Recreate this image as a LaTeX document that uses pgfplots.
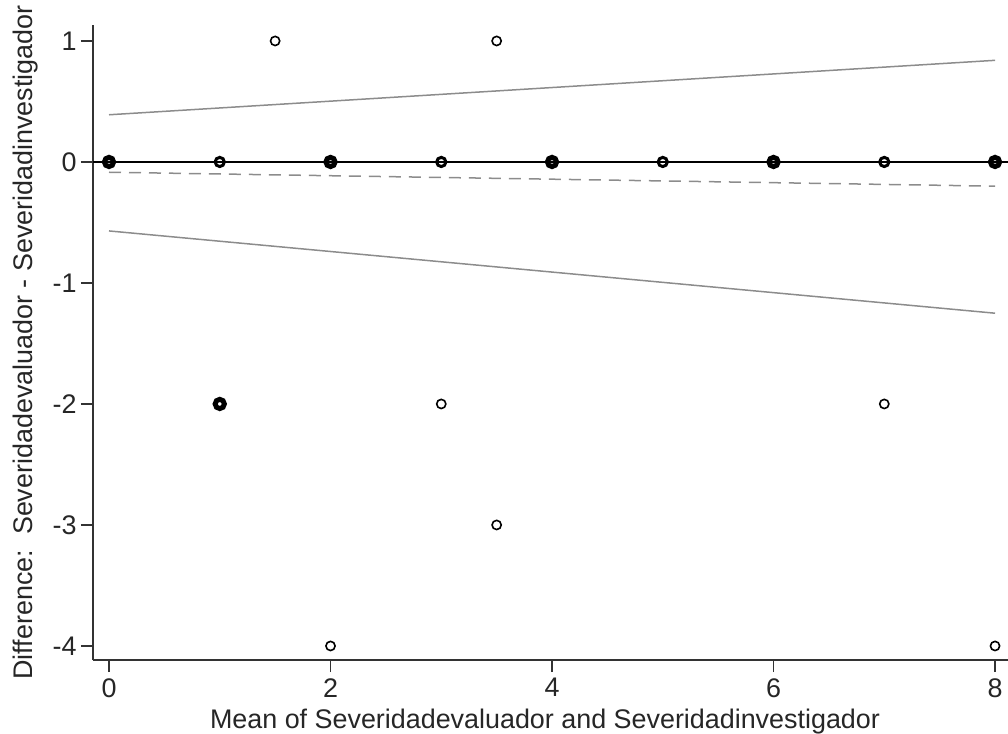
\documentclass[border=0pt]{standalone}
\usepackage{pgfplots}
\pgfplotsset{compat=1.18}
\usepackage{fontspec}
\setmainfont{Liberation Sans}
\begin{document}
\begin{tikzpicture}
\begin{axis}[
  scale only axis, width=457.5bp, height=317.5bp,
  xmin=-0.1445, xmax=8.117, ymin=-4.116, ymax=1.132,
  axis x line*=bottom, axis y line*=left,
  axis line style={line width=0.75bp, black!80, -},
  xtick={0,2,4,6,8}, ytick={-4,-3,-2,-1,0,1},
  tick align=outside, major tick length=6bp,
  tick style={line width=0.75bp, black!80},
  tick label style={font=\fontsize{13.5}{15}\selectfont, text=black!85},
  yticklabel style={inner sep=2bp},
  xticklabel style={inner sep=3bp},
  /pgf/number format/assume math mode=true,
  clip=false,
  xlabel={Mean of Severidadevaluador and Severidadinvestigador},
  ylabel={Difference:\ \ Severidadevaluador - Severidadinvestigador},
  label style={font=\fontsize{13.5}{15}\selectfont, text=black!85},
  xlabel style={at={(rel axis cs:0.494,0)}, anchor=base, yshift=-34bp},
  ylabel style={at={(rel axis cs:0,0.5)}, anchor=base, yshift=30bp},
]
% zero line
\addplot[black, line width=1.2bp] coordinates {(-0.1445,0) (8.117,0)};
% limits of agreement
\addplot[black!45, line width=0.75bp] coordinates {(0,0.39) (8,0.84)};
\addplot[black!45, line width=0.75bp] coordinates {(0,-0.57) (8,-1.25)};
% mean difference
\addplot[black!45, line width=0.75bp, dash pattern=on 6bp off 4bp] coordinates {(0,-0.085) (8,-0.2)};
% single points
\addplot[only marks, mark=o, mark size=2.3bp, mark options={line width=0.8bp, black}] coordinates {
(1.5,1) (3.5,1) (3.5,-3) (2,-4) (8,-4) (3,-2) (7,-2)};
% medium overlap
\addplot[only marks, mark=o, mark size=2.3bp, mark options={line width=1.5bp, black}] coordinates {
(1,0) (3,0) (5,0) (7,0)};
% heavy overlap
\addplot[only marks, mark=o, mark size=2.3bp, mark options={line width=2.5bp, black}] coordinates {
(0,0) (2,0) (4,0) (6,0) (8,0) (1,-2)};
\end{axis}
\pgfresetboundingbox
\path[use as bounding box] ([shift={(-46.5bp,-37bp)}]current axis.south west) rectangle ([shift={(0bp,12.5bp)}]current axis.north east);
\end{tikzpicture}
\end{document}
